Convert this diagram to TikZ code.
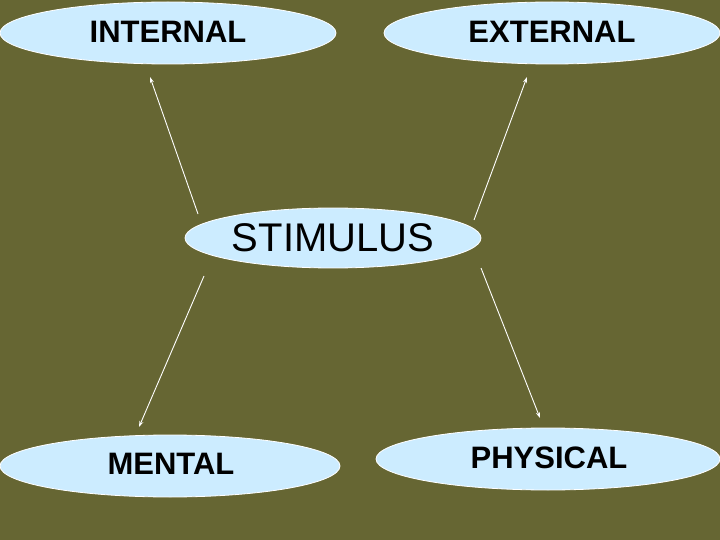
\documentclass[tikz,border=0pt]{standalone}
\usepackage{fontspec}
\setmainfont{Liberation Sans}
\usetikzlibrary{arrows.meta}
\definecolor{bg}{HTML}{666633}
\definecolor{fillb}{HTML}{CCECFF}
\begin{document}
\begin{tikzpicture}[x=1pt,y=-1pt,
  oval/.style={draw=white,line width=0.8pt,fill=fillb},
  lbl/.style={font=\fontsize{31}{36}\selectfont\bfseries},
  biglbl/.style={font=\fontsize{40}{46}\selectfont},
  conn/.style={draw=white,line width=0.9pt,-{Stealth[length=6pt,width=4pt]}}]
\fill[bg] (0,0) rectangle (720,540);
\useasboundingbox (0,0) rectangle (720,540);
\filldraw[oval] (168,33) ellipse [x radius=168,y radius=31];
\filldraw[oval] (552,33) ellipse [x radius=168,y radius=31];
\filldraw[oval] (333,238) ellipse [x radius=148,y radius=30];
\filldraw[oval] (170,466) ellipse [x radius=170,y radius=31];
\filldraw[oval] (548,459) ellipse [x radius=172,y radius=31];
\node[lbl] (int) at (168,32) {INTERNAL};
\node[lbl] (ext) at (552,32) {EXTERNAL};
\node[biglbl] (sti) at (333,238) {STIMULUS};
\node[lbl] (men) at (171,464) {MENTAL};
\node[lbl] (phy) at (549,458) {PHYSICAL};
\coordinate (a1) at (198,214); \coordinate (b1) at (150,77);
\coordinate (a2) at (474,220); \coordinate (b2) at (527,77);
\coordinate (a3) at (204,276); \coordinate (b3) at (139,427);
\coordinate (a4) at (481,268); \coordinate (b4) at (540,418);
\draw[conn] (a1) -- (b1);
\draw[conn] (a2) -- (b2);
\draw[conn] (a3) -- (b3);
\draw[conn] (a4) -- (b4);
\end{tikzpicture}
\end{document}
